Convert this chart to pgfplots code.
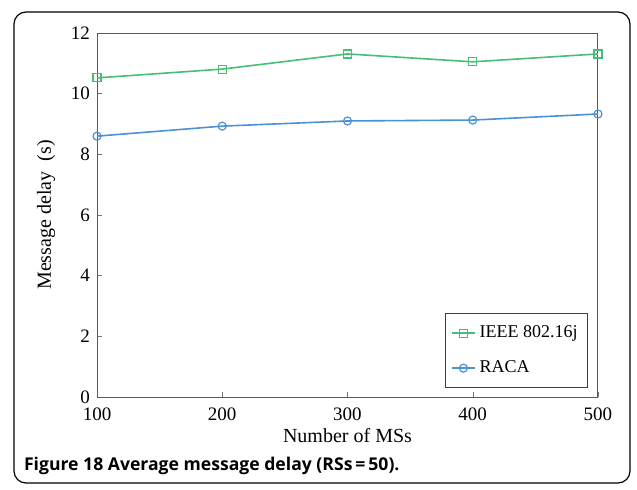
\documentclass[border=0pt]{standalone}
\usepackage{pgfplots}
\pgfplotsset{compat=1.18}
\usepackage{fontspec}
\setmainfont{Liberation Serif}
\newfontfamily\capfont{Open Sans}
\definecolor{ieeegreen}{RGB}{70,190,115}
\definecolor{racablue}{RGB}{75,145,215}
\begin{document}
\begin{tikzpicture}
\path[use as bounding box] (0,0) rectangle (318.5pt,244.5pt);
\draw[black, line width=0.6pt, rounded corners=6pt] (7pt,3pt) rectangle (315pt,238.5pt);
\node[anchor=west, font=\capfont\bfseries\fontsize{8.8}{10}\selectfont] at (8.5pt,11.5pt) {Figure 18 Average message delay (RSs\,=\,50).};
\begin{axis}[
  at={(48.5pt,46pt)}, anchor=south west,
  scale only axis, width=250.5pt, height=182pt,
  xmin=100, xmax=500, ymin=0, ymax=12,
  xtick={100,200,300,400,500}, ytick={0,2,4,6,8,10,12},
  tick align=inside, major tick length=2.5pt,
  xtick pos=bottom, ytick pos=left,
  axis line style={draw=black!65, line width=0.5pt},
  tick style={draw=black!55},
  /pgf/number format/assume math mode=true,
  ticklabel style={font=\fontsize{9.5}{11}\selectfont},
  xticklabel style={yshift=-2pt},
  xlabel={Number of MSs}, ylabel={Message delay\ \ (s)},
  label style={font=\fontsize{10}{12}\selectfont},
  xlabel style={yshift=3pt},
  ylabel style={yshift=1pt},
  legend style={at={(1,0)}, anchor=south east, xshift=-5pt, yshift=4.5pt,
    draw=black!75, font=\fontsize{9}{11}\selectfont, row sep=6pt,
    inner xsep=3pt, inner ysep=4pt, cells={anchor=west}},
  legend image code/.code={
    \draw[mark repeat=2, mark phase=2, #1] plot coordinates {(0cm,0cm) (0.2cm,0cm) (0.4cm,0cm)};},
]
\addplot[draw=ieeegreen, line width=0.8pt, mark=square, mark size=2pt, mark options={draw=ieeegreen, line width=0.6pt}]
  coordinates {(100,10.52) (200,10.81) (300,11.31) (400,11.05) (500,11.31)};
\addlegendentry{IEEE 802.16j}
\addplot[draw=racablue, line width=0.8pt, mark=o, mark size=2pt, mark options={draw=racablue, line width=0.6pt}]
  coordinates {(100,8.6) (200,8.93) (300,9.1) (400,9.13) (500,9.33)};
\addlegendentry{RACA}
\end{axis}
\end{tikzpicture}
\end{document}
